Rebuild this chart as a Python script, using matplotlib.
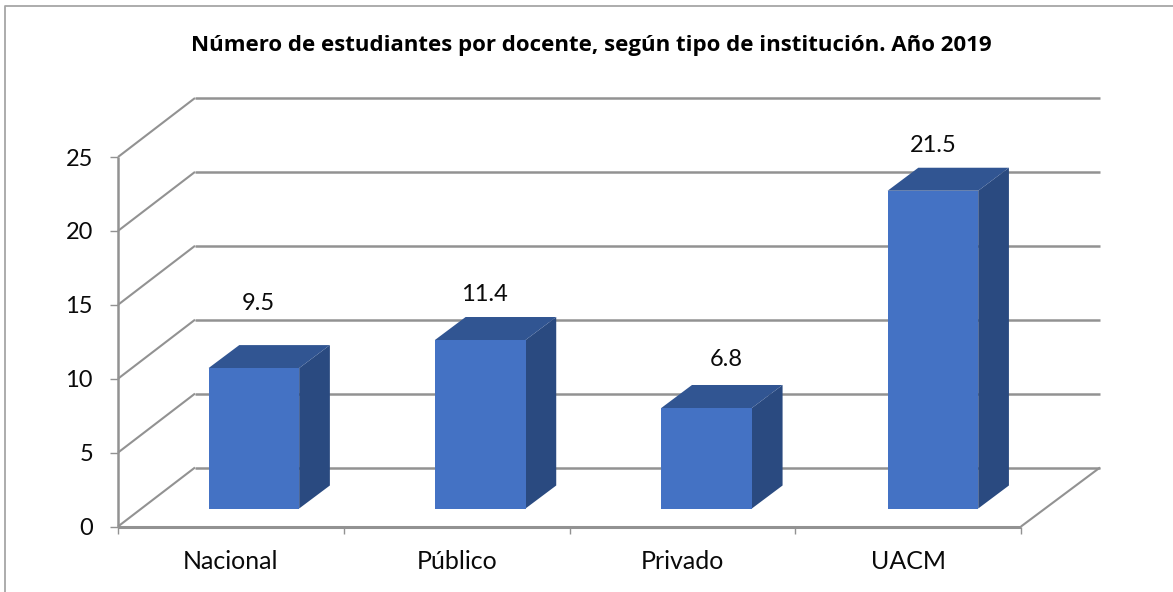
import matplotlib
matplotlib.use("Agg")
import matplotlib.pyplot as plt
from matplotlib.patches import Polygon, Rectangle
from matplotlib.lines import Line2D

categories = ["Nacional", "Público", "Privado", "UACM"]
values = [9.5, 11.4, 6.8, 21.5]
value_labels = ["9.5", "11.4", "6.8", "21.5"]
yticks = [0, 5, 10, 15, 20, 25]
title = "Número de estudiantes por docente, según tipo de institución. Año 2019"

# label placement relative to the front top centre of each bar, in pixels
label_dx = [4, 4, 20, 0]
label_dy = [67, 48, 50, 47]

W, H = 1173, 592
plt.rcParams["font.family"] = ["Lato", "DejaVu Sans"]
fig = plt.figure(figsize=(W / 100, H / 100), dpi=100)
x0, x1, y0, y1 = 118, 1021, 526.5, 157
ax = fig.add_axes([x0 / W, 1 - y0 / H, (x1 - x0) / W, (y0 - y1) / H])
ax.set_xlim(0, 4)
ax.set_ylim(0, 25)
ax.axis("off")

ux = (x1 - x0) / 4      # px per category
uy = (y0 - y1) / 25     # px per value unit
DXL, DXR, DY = 77 / ux, 79 / ux, 59 / uy   # depth of the floor
GRID = "#929292"
FS = 17
TXT = "#0a0a0a"

# figure frame: left and top edges only
frame = "#a6a6a6"
fig.add_artist(Line2D([4.5 / W, 4.5 / W, 1], [0, 1 - 5.5 / H, 1 - 5.5 / H],
                      transform=fig.transFigure, color=frame, lw=1.3))

def line(xs, ys, lw=1.8, color=GRID, z=1):
    ax.plot(xs, ys, color=color, lw=lw, clip_on=False, zorder=z, solid_capstyle="butt")

# walls and floor
for t in yticks:
    line([0, DXL], [t, t + DY], lw=1.5)
    line([DXL, 4 + DXR], [t + DY, t + DY])
line([0, 0], [0, 25])
line([0, 4], [0, 0], lw=2.2)
line([4, 4 + DXR], [0, DY], lw=1.5)
for i in range(5):
    line([i, i], [0, -7 / uy], lw=1.0)
for t in yticks:
    line([-8 / ux, 0], [t, t], lw=1.0)
    ax.text(-25 / ux, t, str(t), ha="right", va="center_baseline", fontsize=FS, color=TXT)

# bars
bw = 90.6 / ux
bdx, bdy = 30.7 / ux, 23 / uy
fy = 18 / uy
for i, (v, lab, cat) in enumerate(zip(values, value_labels, categories)):
    fx = (23 + 0.6 * i) / ux
    l = i + 0.5 + fx - bw / 2
    r = l + bw
    b, t = fy, fy + v
    ax.add_patch(Polygon([(r, b), (r + bdx, b + bdy), (r + bdx, t + bdy), (r, t)],
                         fc="#2a4a80", ec="none", zorder=3, clip_on=False))
    ax.add_patch(Polygon([(l, t), (l + bdx, t + bdy), (r + bdx, t + bdy), (r, t)],
                         fc="#315592", ec="none", zorder=3, clip_on=False))
    ax.add_patch(Rectangle((l, b), bw, v, fc="#4472c4", ec="none", zorder=4, clip_on=False))
    ax.text((l + r) / 2 + label_dx[i] / ux, t + label_dy[i] / uy, lab,
            ha="center", va="center_baseline", fontsize=FS, color=TXT, zorder=5)
    ax.text(i + 0.5, -33 / uy, cat, ha="center", va="center_baseline", fontsize=18, color=TXT)

fig.text(591 / W, 1 - 43 / H, title, ha="center", va="center_baseline", fontsize=16,
         fontweight="bold", color="#000000", family=["Open Sans", "DejaVu Sans"])
fig.savefig("out.png", dpi=100)
